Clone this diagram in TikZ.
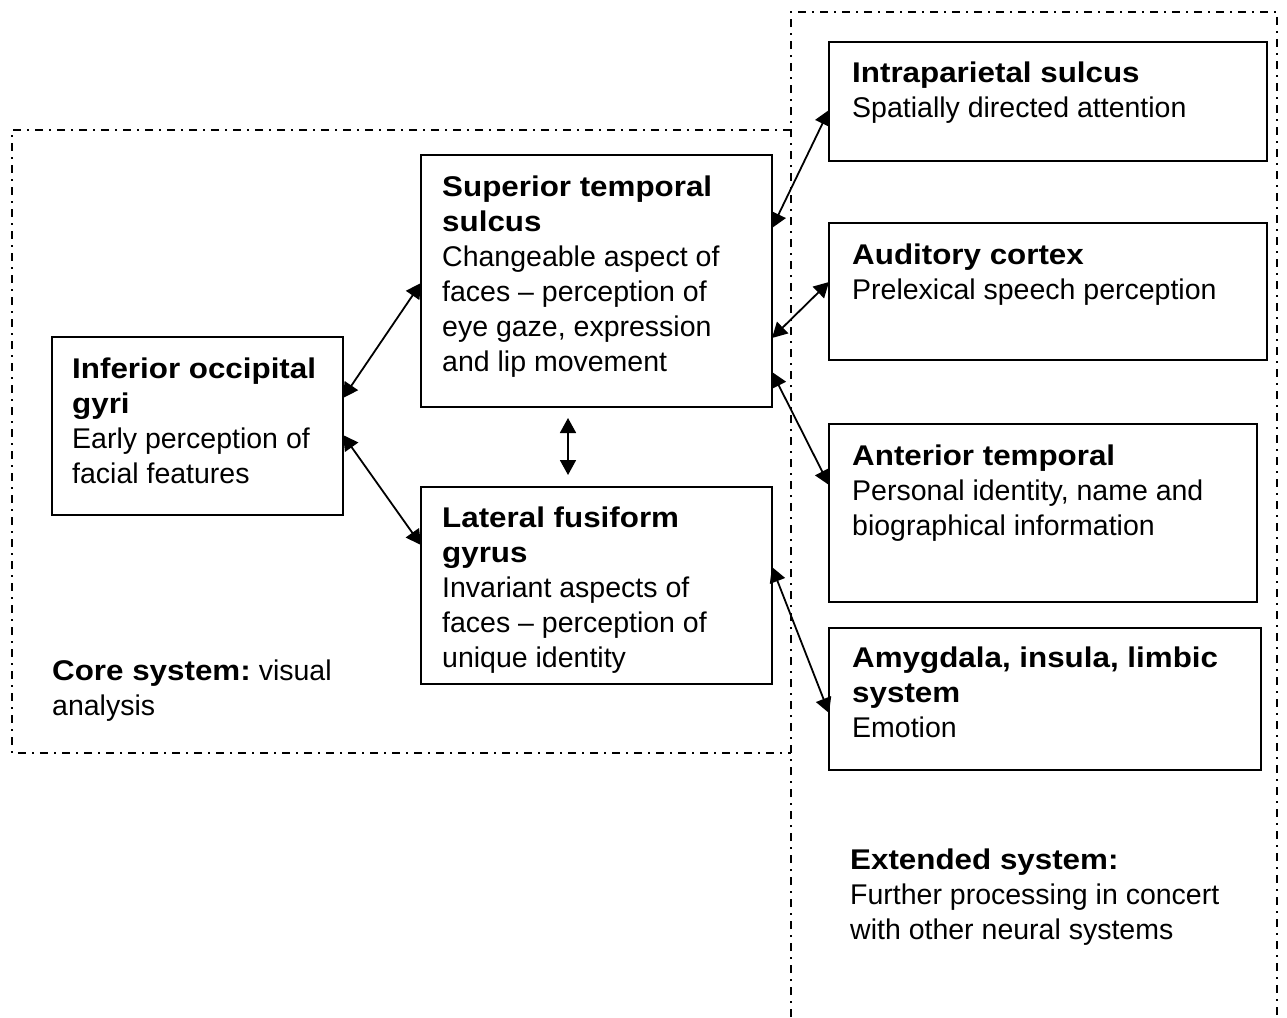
\documentclass[tikz,border=0pt]{standalone}
\usepackage{fontspec}
\setmainfont{Liberation Sans}[BoldFeatures={FakeStretch=1.1}]
\usetikzlibrary{arrows.meta,calc}
\newcommand\topstrut{\rule{0pt}{25pt}}
\begin{document}
\begin{tikzpicture}[x=1pt,y=-1pt,
  box/.style={draw, line width=1.9pt, rectangle, anchor=north west, inner sep=0pt, outer sep=0pt},
  txt/.style={anchor=north west, inner sep=0pt, align=left, font=\fontsize{28.5}{35}\selectfont},
  link/.style={line width=1.8pt, {Triangle[length=15pt,width=16pt]}-{Triangle[length=15pt,width=16pt]}},
  region/.style={line width=2.5pt, dash pattern=on 8pt off 6pt on 2pt off 6pt}]
\useasboundingbox (0,0) rectangle (1287,1017);
% regions
\draw[region] (791,130) -- (12,130) -- (12,753) -- (791,753);
\draw[region] (791,1017) -- (791,12) -- (1277,12) -- (1277,1017);
% boxes
\node[box, minimum width=291pt, minimum height=178pt] (iog) at (52,337) {};
\node[box, minimum width=351pt, minimum height=252pt] (sts) at (421,155) {};
\node[box, minimum width=351pt, minimum height=197pt] (lfg) at (421,487) {};
\node[box, minimum width=438pt, minimum height=119pt] (ips) at (829,42) {};
\node[box, minimum width=438pt, minimum height=137pt] (aud) at (829,223) {};
\node[box, minimum width=428pt, minimum height=178pt] (ant) at (829,424) {};
\node[box, minimum width=432pt, minimum height=142pt] (amy) at (829,628) {};
% texts
\node[txt] (iogt) at (72,353) {\topstrut\textbf{Inferior occipital}\\\textbf{gyri}\\Early perception of\\facial features};
\node[txt] (stst) at (442,171) {\topstrut\textbf{Superior temporal}\\\textbf{sulcus}\\Changeable aspect of\\faces -- perception of\\eye gaze, expression\\and lip movement};
\node[txt] (lfgt) at (442,502) {\topstrut\textbf{Lateral fusiform}\\\textbf{gyrus}\\Invariant aspects of\\faces -- perception of\\unique identity};
\node[txt] (ipst) at (852,57) {\topstrut\textbf{Intraparietal sulcus}\\Spatially directed attention};
\node[txt] (audt) at (852,239) {\topstrut\textbf{Auditory cortex}\\Prelexical speech perception};
\node[txt] (antt) at (852,440) {\topstrut\textbf{Anterior temporal}\\Personal identity, name and\\biographical information};
\node[txt] (amyt) at (852,642) {\topstrut\textbf{Amygdala, insula, limbic}\\\textbf{system}\\Emotion};
\node[txt] (coret) at (52,655) {\topstrut\textbf{Core system:}~visual\\analysis};
\node[txt] (extt) at (850,844) {\topstrut\textbf{Extended system:}\\Further processing in concert\\with other neural systems};
% connectors
\draw[link] ($(iog.north east)+(0,61)$) -- ($(sts.north west)+(0,128)$);
\draw[link] ($(iog.north east)+(0,98)$) -- ($(lfg.north west)+(0,58)$);
\draw[link] ($(sts.south)+(-28.5,11)$) -- ($(lfg.north)+(-28.5,-12)$);
\draw[link] ($(sts.north east)+(0,73)$) -- ($(ips.north west)+(0,68)$);
\draw[link] ($(sts.north east)+(0,183)$) -- ($(aud.north west)+(0,59)$);
\draw[link] ($(sts.north east)+(0,217)$) -- ($(ant.north west)+(0,61)$);
\draw[link] ($(lfg.north east)+(0,80)$) -- ($(amy.north west)+(0,85)$);
\end{tikzpicture}
\end{document}
